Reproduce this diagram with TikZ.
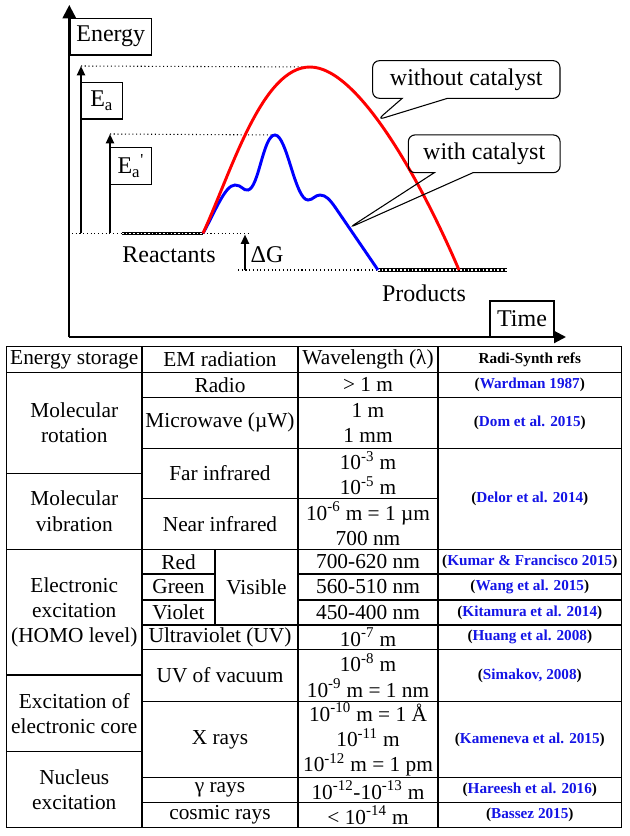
\documentclass[tikz,border=0pt]{standalone}
\usepackage{fontspec}
\setmainfont{Liberation Serif}
\usetikzlibrary{arrows.meta,shapes.callouts}
\definecolor{refblue}{RGB}{20,20,230}
\newcommand{\rf}[1]{(\textcolor{refblue}{#1})}
\newcommand{\pw}[1]{\textsuperscript{#1}}
\tikzset{
	labbox/.style={draw,line width=1pt,inner sep=0pt,font=\fontsize{18}{21}\selectfont},
	lab/.style={inner sep=0pt,font=\fontsize{18}{21}\selectfont},
	bubble/.style={rectangle callout,draw,line width=0.8pt,rounded corners=5pt,inner sep=0pt,font=\fontsize{18}{21}\selectfont},
	cell/.style={align=center,inner sep=0pt,font=\fontsize{16}{19}\selectfont},
	refcell/.style={inner sep=0pt,font=\fontsize{11.4}{13}\selectfont\bfseries},
	flatline/.style={line width=2.4pt,postaction={draw,white,line width=0.9pt,dash pattern=on 1.2pt off 1.6pt}},
	guideline/.style={line width=0.8pt,dotted},
	ecurve/.style={line width=2.2pt},
	tline/.style={line width=0.8pt},
	up/.style={line width=1.5pt,-{Triangle[length=7pt,width=6pt]}}
}
\begin{document}
\begin{tikzpicture}[x=0.75pt,y=-0.75pt]
	\useasboundingbox (0,0) rectangle (630,836);
	% axes
	\coordinate (o) at (69.3,337);
	\coordinate (ytip) at (69.3,5);
	\coordinate (xtip) at (566,337);
	\draw[line width=1.6pt,-{Triangle[length=10pt,width=10pt]}] (o) -- (ytip);
	\draw[line width=1.6pt,-{Triangle[length=9pt,width=9pt]}] (o) -- (xtip);
	\node[labbox,minimum width=61.3pt,minimum height=27.5pt] (energy) at (110.8,36.7) {Energy};
	\node[labbox,minimum width=48pt,minimum height=27.2pt] (time) at (522,319) {Time};

	% levels
	\coordinate (lft) at (72,233.3);
	\coordinate (r1) at (122,233.3);
	\coordinate (r2) at (203,233.3);
	\coordinate (rgt) at (250,233.3);
	\coordinate (pl) at (238,270);
	\coordinate (p1) at (378,270);
	\coordinate (p2) at (507,270);
	\coordinate (top) at (310,67);
	\coordinate (peak) at (275,135);
	\coordinate (ea0) at (81,233.3);
	\coordinate (ea1) at (81,66);
	\coordinate (eb0) at (110,233.3);
	\coordinate (eb1) at (110,134);
	\coordinate (dg0) at (245,270);
	\coordinate (dg1) at (245,234.5);
	\draw[guideline] (lft) -- (r1);
	\draw[guideline] (r2) -- (rgt);
	\draw[guideline] (pl) -- (p1);
	\draw[guideline] (ea1) -- (top);
	\draw[guideline] (eb1) -- (peak);
	\draw[flatline] (r1) -- (r2);
	\draw[flatline] (p1) -- (p2);
	\draw[up] (ea0) -- (ea1);
	\draw[up] (eb0) -- (eb1);
	\draw[up] (dg0) -- (dg1);
	\node[labbox,minimum width=31pt,minimum height=27.5pt] (ea) at (101.7,100.7) {E\textsubscript{a}};
	\node[labbox,minimum width=31.3pt,minimum height=27.5pt] (eb) at (130.8,166) {E\textsubscript{a}\pw{\textquotesingle}};
	\node[lab] (react) at (169,255) {Reactants};
	\node[lab] (dg) at (267,255) {ΔG};
	\node[lab] (prod) at (424,293) {Products};

	% curves
	\draw[ecurve,blue] (r2) .. controls (215,212) and (225,185) .. (235,185)
		.. controls (242,185) and (243,191) .. (248,190)
		.. controls (259,188) and (263,135) .. (peak)
		.. controls (287,135) and (295,200) .. (308,200)
		.. controls (313,200) and (315,195) .. (320,195)
		.. controls (326,195) and (330,200) .. (335,207)
		-- coordinate[pos=0.33] (wi) (p1);
	\draw[ecurve,red] (r2) .. controls (232,170) and (262,67) .. (top) .. controls (360,67) and (425,190) .. coordinate[pos=0.42] (wo) (459,270);
	\node[bubble,minimum width=140.5pt,minimum height=28.2pt,callout pointer width=34pt,callout absolute pointer={(wo)}] (wocat) at (466.3,79.5) {without catalyst};
	\node[bubble,minimum width=113.8pt,minimum height=28.3pt,callout pointer width=29pt,callout absolute pointer={(wi)}] (wicat) at (484.2,153.8) {with catalyst};

	% table
	\draw[tline] (6.7,346.7) rectangle (621.7,827.7);
	\draw[tline] (6.7,372.3) -- (621.7,372.3);
	\draw[tline] (142,397.3) -- (621.7,397.3);
	\draw[tline] (142,448.3) -- (621.7,448.3);
	\draw[tline] (6.7,473.3) -- (142,473.3);
	\draw[tline] (142,498.3) -- (438,498.3);
	\draw[tline] (6.7,549.3) -- (621.7,549.3);
	\draw[tline] (142,574) -- (215,574);
	\draw[tline] (298,574) -- (621.7,574);
	\draw[tline] (142,600) -- (215,600);
	\draw[tline] (298,600) -- (621.7,600);
	\draw[tline] (142,625) -- (621.7,625);
	\draw[tline] (142,649.3) -- (621.7,649.3);
	\draw[tline] (6.7,675) -- (142,675);
	\draw[tline] (142,701.7) -- (621.7,701.7);
	\draw[tline] (6.7,751.7) -- (142,751.7);
	\draw[tline] (142,777.3) -- (621.7,777.3);
	\draw[tline] (142,802.7) -- (621.7,802.7);
	\draw[tline] (142,346.7) -- (142,827.7);
	\draw[tline] (298,346.7) -- (298,827.7);
	\draw[tline] (438,346.7) -- (438,827.7);
	\draw[tline] (215,549.3) -- (215,625);

	\node[cell] (h1) at (74.3,359.5) {Energy storage};
	\node[cell] (h2) at (220,359.5) {EM radiation};
	\node[cell] (h3) at (368,359.5) {Wavelength (λ)};
	\node[refcell] (h4) at (529.8,359.5) {Radi-Synth refs};

	\node[cell] (s1) at (74.3,422.8) {Molecular\\rotation};
	\node[cell] (s2) at (74.3,511.3) {Molecular\\vibration};
	\node[cell] (s3) at (74.3,612.2) {Electronic\\excitation\\(HOMO level)};
	\node[cell] (s4) at (74.3,713.3) {Excitation of\\electronic core};
	\node[cell] (s5) at (74.3,789.7) {Nucleus\\excitation};

	\node[cell] (m1) at (220,384.8) {Radio};
	\node[cell] (m2) at (220,422.8) {Microwave (µW)};
	\node[cell] (m3) at (220,473.3) {Far infrared};
	\node[cell] (m4) at (220,523.8) {Near infrared};
	\node[cell] (m5) at (178.5,561.7) {Red};
	\node[cell] (m6) at (178.5,587) {Green};
	\node[cell] (m7) at (178.5,612.5) {Violet};
	\node[cell] (m8) at (256.5,587.2) {Visible};
	\node[cell] (m9) at (220,637.2) {Ultraviolet (UV)};
	\node[cell] (m10) at (220,675.5) {UV of vacuum};
	\node[cell] (m11) at (220,739.5) {X rays};
	\node[cell] (m12) at (220,790) {γ rays};
	\node[cell] (m13) at (220,815.2) {cosmic rays};

	\node[cell] (w1) at (368,384.8) {> 1 m};
	\node[cell] (w2) at (368,422.8) {1 m\\1 mm};
	\node[cell] (w3) at (368,473.3) {10\pw{-3} m\\10\pw{-5} m};
	\node[cell] (w4) at (368,523.8) {10\pw{-6} m = 1 µm\\700 nm};
	\node[cell] (w5) at (368,561.7) {700-620 nm};
	\node[cell] (w6) at (368,587) {560-510 nm};
	\node[cell] (w7) at (368,612.5) {450-400 nm};
	\node[cell] (w8) at (368,637.2) {10\pw{-7} m};
	\node[cell] (w9) at (368,675.5) {10\pw{-8} m\\10\pw{-9} m = 1 nm};
	\node[cell] (w10) at (368,739.5) {10\pw{-10} m = 1 Å\\10\pw{-11} m\\10\pw{-12} m = 1 pm};
	\node[cell] (w11) at (368,790) {10\pw{-12}-10\pw{-13} m};
	\node[cell] (w12) at (368,815.2) {< 10\pw{-14} m};

	\node[refcell] (k1) at (529.8,384.8) {\rf{Wardman 1987}};
	\node[refcell] (k2) at (529.8,422.8) {\rf{Dom et al. 2015}};
	\node[refcell] (k3) at (529.8,498.8) {\rf{Delor et al. 2014}};
	\node[refcell] (k4) at (529.8,561.7) {\rf{Kumar \& Francisco 2015}};
	\node[refcell] (k5) at (529.8,587) {\rf{Wang et al. 2015}};
	\node[refcell] (k6) at (529.8,612.5) {\rf{Kitamura et al. 2014}};
	\node[refcell] (k7) at (529.8,637.2) {\rf{Huang et al. 2008}};
	\node[refcell] (k8) at (529.8,675.5) {\rf{Simakov, 2008}};
	\node[refcell] (k9) at (529.8,739.5) {\rf{Kameneva et al. 2015}};
	\node[refcell] (k10) at (529.8,790) {\rf{Hareesh et al. 2016}};
	\node[refcell] (k11) at (529.8,815.2) {\rf{Bassez 2015}};
\end{tikzpicture}
\end{document}
